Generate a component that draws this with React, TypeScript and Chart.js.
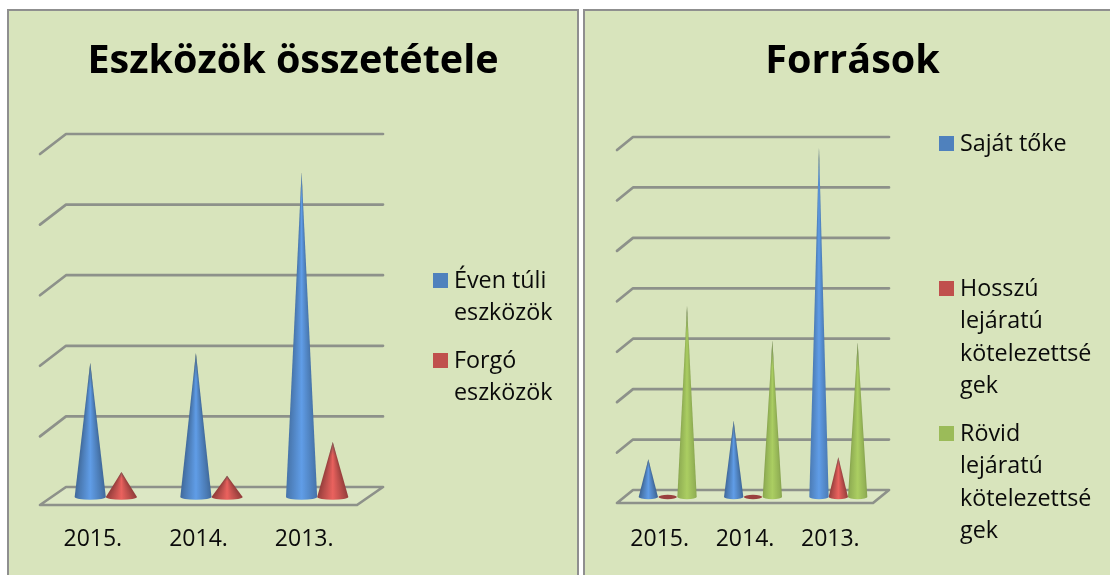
import React, { useEffect, useRef } from "react";
import { Chart, registerables, BarController, BarElement } from "chart.js";

Chart.register(...registerables);

const FONT = "'Open Sans', Lato, sans-serif";
const years = ["2015.", "2014.", "2013."];

const assetTitle = "Eszközök összetétele";
const longTermAssets = [1.9, 2.04, 4.6];
const currentAssets = [0.354, 0.3, 0.78];
const assetLegend = [["Éven túli", "eszközök"], ["Forgó", "eszközök"]];

const sourceTitle = "Források";
const equity = [0.75, 1.51, 6.92];
const longTermLiabilities = [0.03, 0.03, 0.79];
const shortTermLiabilities = [3.79, 3.1, 3.06];
const sourceLegend = [
  ["Saját tőke"],
  ["Hosszú", "lejáratú", "kötelezettsé", "gek"],
  ["Rövid", "lejáratú", "kötelezettsé", "gek"],
];

const BLUE = "#4F81BD";
const RED = "#C0504D";
const GREEN = "#9BBB59";

function shade(hex: string, f: number) {
  const n = parseInt(hex.slice(1), 16);
  const c = [n >> 16, (n >> 8) & 255, n & 255].map((v) => Math.min(255, Math.round(v * f)));
  return `rgb(${c[0]},${c[1]},${c[2]})`;
}

class ConeElement extends BarElement {
  static id = "cone";
  static defaults = { ...BarElement.defaults };
  draw(ctx: CanvasRenderingContext2D) {
    const { x, y, base, width } = (this as any).getProps(["x", "y", "base", "width"]);
    const color = (this as any).options.backgroundColor as string;
    const rx = width / 2;
    const ry = Math.max(2.2, width * 0.09);
    ctx.save();
    const h = base - y;
    if (h < 4) {
      ctx.fillStyle = shade(color, 0.8);
      ctx.beginPath();
      ctx.ellipse(x, base, rx * 0.95, ry, 0, 0, Math.PI * 2);
      ctx.fill();
      ctx.restore();
      return;
    }
    const path = new Path2D();
    path.moveTo(x, y);
    path.lineTo(x + rx, base);
    path.ellipse(x, base, rx, ry, 0, 0, Math.PI);
    path.closePath();
    const light = color === GREEN ? 1.1 : 1.22;
    const edge = Math.atan2(h, rx);
    const span = (Math.PI - 2 * edge) / (2 * Math.PI);
    const g = (ctx as any).createConicGradient(edge - 0.02, x, y);
    const m = span + 0.04 / (2 * Math.PI);
    g.addColorStop(0, shade(color, 0.74));
    g.addColorStop(m * 0.2, shade(color, 0.95));
    g.addColorStop(m * 0.5, shade(color, light));
    g.addColorStop(m * 0.8, shade(color, 0.95));
    g.addColorStop(m, shade(color, 0.74));
    g.addColorStop(Math.min(1, m + 0.001), shade(color, 0.74));
    ctx.fillStyle = g;
    ctx.fill(path);
    const tipLen = Math.min(26, h * 0.25);
    const tip = ctx.createLinearGradient(0, y, 0, y + tipLen);
    tip.addColorStop(0, "rgba(70,80,80,0.55)");
    tip.addColorStop(1, "rgba(70,80,80,0)");
    ctx.fillStyle = tip;
    ctx.fill(path);
    ctx.restore();
  }
}

class ConeController extends BarController {
  static id = "cone";
  static defaults = { ...BarController.defaults, dataElementType: "cone" };
}

Chart.register(ConeElement, ConeController);

const wallPlugin = {
  id: "wall",
  beforeDatasetsDraw(chart: any, _a: any, o: any) {
    const { ctx, chartArea: a } = chart;
    const y = chart.scales.y;
    ctx.save();
    ctx.strokeStyle = "#8d918a";
    ctx.lineWidth = 2.7;
    ctx.lineJoin = "round";
    ctx.lineCap = "round";
    const zero = y.getPixelForValue(0);
    ctx.fillStyle = "rgba(255,255,255,0.12)";
    ctx.beginPath();
    ctx.moveTo(a.left - o.dx, zero + o.floorFront);
    ctx.lineTo(a.left + o.dx, zero - o.back);
    ctx.lineTo(a.right + o.dx, zero - o.back);
    ctx.lineTo(a.right - o.dx, zero + o.floorFront);
    ctx.closePath();
    ctx.fill();
    ctx.stroke();
    for (const t of y.ticks) {
      if (t.value === 0) continue;
      const p = y.getPixelForValue(t.value);
      ctx.beginPath();
      ctx.moveTo(a.left - o.dx, p + o.front);
      ctx.lineTo(a.left + o.dx, p - o.back);
      ctx.lineTo(a.right + o.dx, p - o.back);
      ctx.stroke();
    }
    ctx.restore();
  },
};

const sideLegendPlugin = {
  id: "sideLegend",
  afterDraw(chart: any, _a: any, o: any) {
    const { ctx } = chart;
    ctx.save();
    ctx.font = `${o.size}px ${FONT}`;
    ctx.textBaseline = "middle";
    ctx.textAlign = "left";
    chart.data.datasets.forEach((d: any, i: number) => {
      const top = o.y + i * o.step;
      ctx.fillStyle = d.backgroundColor;
      ctx.fillRect(o.x, top, 15, 15);
      ctx.fillStyle = "#0a0a0a";
      o.lines[i].forEach((line: string, k: number) => {
        ctx.fillText(line, o.x + 21, top + 8.5 + k * o.lineHeight);
      });
    });
    ctx.restore();
  },
};

type Cfg = {
  title: string;
  series: { label: string; data: number[]; color: string }[];
  max: number;
  pad: { left: number; right: number; bottom: number };
  category: number;
  labelOffset: number;
  wall: { dx: number; back: number; front: number; floorFront: number };
  legend: { x: number; y: number; step: number; lines: string[][]; size: number; lineHeight: number };
};

function hiddenAxis(position: string, width: number) {
  return {
    type: "linear",
    position,
    display: true,
    grid: { display: false, drawTicks: false },
    border: { display: false },
    ticks: { display: false },
    afterFit(s: any) {
      s.width = width;
    },
  };
}

function Panel({ cfg, style, w }: { cfg: Cfg; style: React.CSSProperties; w: number }) {
  const ref = useRef<HTMLCanvasElement>(null);
  useEffect(() => {
    const chart = new Chart(ref.current!, {
      type: "cone" as any,
      data: {
        labels: years,
        datasets: cfg.series.map((s) => ({
          label: s.label,
          data: s.data,
          backgroundColor: s.color,
          categoryPercentage: cfg.category,
          barPercentage: 1,
          xAxisID: "x",
          yAxisID: "y",
          clip: false,
        })),
      },
      plugins: [wallPlugin, sideLegendPlugin],
      options: {
        animation: false,
        responsive: false,
        layout: { padding: { left: 0, right: 0, bottom: cfg.pad.bottom, top: 0 } },
        scales: {
          x: {
            type: "category",
            offset: true,
            grid: { display: false, drawTicks: false },
            border: { display: false },
            ticks: {
              color: "#0a0a0a",
              font: { family: FONT, size: 23 },
              padding: 29,
              maxRotation: 0,
              autoSkip: false,
              labelOffset: cfg.labelOffset,
            },
          },
          y: { ...hiddenAxis("left", cfg.pad.left), min: 0, max: cfg.max, ticks: { display: false, stepSize: 1 } },
          y2: hiddenAxis("right", cfg.pad.right),
        },
        plugins: {
          legend: { display: false },
          tooltip: { enabled: false },
          title: {
            display: true,
            text: cfg.title,
            color: "#000",
            font: { family: FONT, size: 39.5, weight: "bold", lineHeight: 1.2 },
            padding: { top: 27.3, bottom: 58.3 },
          },
          wall: cfg.wall,
          sideLegend: cfg.legend,
        } as any,
      },
    } as any);
    return () => chart.destroy();
  }, []);
  return (
    <div
      style={{
        position: "absolute",
        top: 9,
        height: 580,
        boxSizing: "border-box",
        border: "2px solid #8f8f8f",
        borderBottom: "none",
        background: "#D8E4BC",
        overflow: "hidden",
        ...style,
      }}
    >
      <canvas ref={ref} width={w} height={600} style={{ display: "block", width: w, height: 600 }} />
    </div>
  );
}

const assetCfg: Cfg = {
  title: assetTitle,
  series: [
    { label: "Éven túli eszközök", data: longTermAssets, color: BLUE },
    { label: "Forgó eszközök", data: currentAssets, color: RED },
  ],
  max: 5,
  pad: { left: 44, right: 207, bottom: 28.4 },
  category: 0.59,
  labelOffset: -13,
  wall: { dx: 13, back: 10, front: 10, floorFront: 8 },
  legend: { x: 424, y: 262, step: 80, lines: assetLegend, size: 23.3, lineHeight: 32 },
};

const sourceCfg: Cfg = {
  title: sourceTitle,
  series: [
    { label: "Saját tőke", data: equity, color: BLUE },
    { label: "Hosszú lejáratú kötelezettségek", data: longTermLiabilities, color: RED },
    { label: "Rövid lejáratú kötelezettségek", data: shortTermLiabilities, color: GREEN },
  ],
  max: 7,
  pad: { left: 40, right: 239, bottom: 28.4 },
  category: 0.68,
  labelOffset: -8,
  wall: { dx: 8, back: 7, front: 6, floorFront: 6 },
  legend: { x: 354, y: 125, step: 145, lines: sourceLegend, size: 23.3, lineHeight: 32.3 },
};

export default function App() {
  return (
    <div style={{ position: "fixed", left: 0, top: 0, width: 1110, height: 575, background: "#fff", overflow: "hidden" }}>
      <Panel cfg={assetCfg} w={568} style={{ left: 7, width: 572 }} />
      <Panel cfg={sourceCfg} w={535} style={{ left: 583, width: 540 }} />
    </div>
  );
}
